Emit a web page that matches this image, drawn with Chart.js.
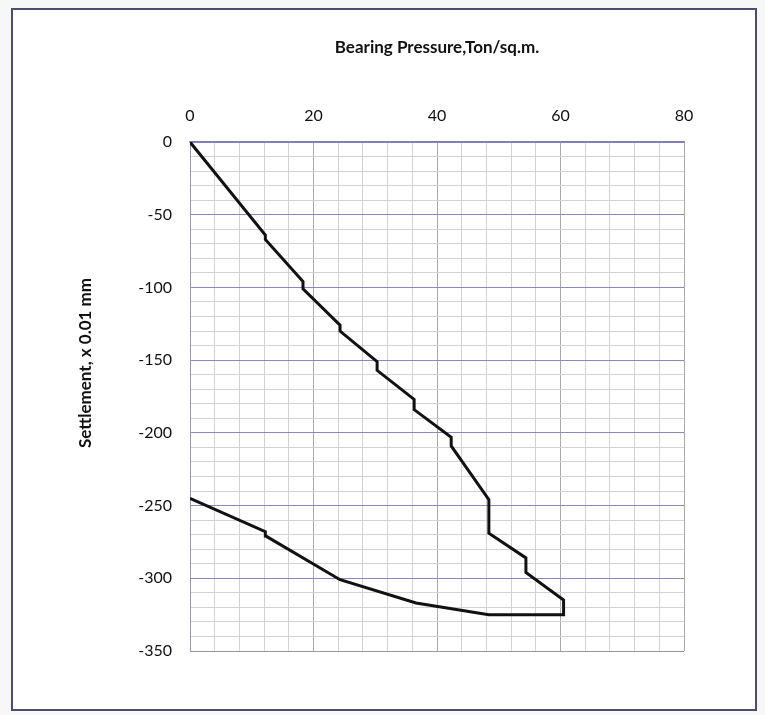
<!DOCTYPE html>
<html>
<head>
<meta charset="utf-8">
<script src="https://cdn.jsdelivr.net/npm/chart.js@4/dist/chart.umd.min.js"></script>
<style>
  html, body { margin: 0; padding: 0; background: #f7f7f7; }
  #wrap { position: relative; width: 765px; height: 715px; overflow: hidden; }
  #frame { position: absolute; left: 11px; top: 8px; width: 746px; height: 703px;
           border: 2px solid #4d4d6e; background: #ffffff; box-sizing: border-box; }
  #c { position: absolute; left: 0; top: 0; }
</style>
</head>
<body>
<div id="wrap">
  <div id="frame"></div>
  <canvas id="c" width="765" height="715"></canvas>
</div>
<script>
// Bearing pressure (Ton/sq.m.) and settlement (x 0.01 mm), loading then unloading
const pressure   = [0, 12.2, 12.2, 18.3, 18.3, 24.3, 24.3, 30.3, 30.3, 36.3, 36.3, 42.3, 42.3, 48.4, 48.4, 54.4, 54.4, 60.5, 60.5, 48.4, 36.6, 24.3, 12.3, 12.2, 0];
const settlement = [0, -64, -67, -96, -101, -126, -130, -151, -157, -177, -184, -203, -209, -246, -269, -286, -296, -315, -325, -325, -317, -301, -271, -268, -245];
const xTickLabels = [0, 20, 40, 60, 80];
const yTickLabels = [0, -50, -100, -150, -200, -250, -300, -350];
const xTitle = 'Bearing Pressure,Ton/sq.m.';
const yTitle = 'Settlement, x 0.01 mm';

const points = pressure.map((p, i) => ({ x: p, y: settlement[i] }));
const FONT = 'Lato, "Open Sans", sans-serif';

const yTitlePlugin = {
  id: 'yTitle',
  afterDraw(chart) {
    const ctx = chart.ctx;
    ctx.save();
    ctx.translate(86, 363);
    ctx.rotate(-Math.PI / 2);
    ctx.font = 'bold 17px ' + FONT;
    ctx.fillStyle = '#111';
    ctx.textAlign = 'center';
    ctx.textBaseline = 'middle';
    ctx.fillText(yTitle, 0, 0);
    ctx.restore();
  }
};

new Chart(document.getElementById('c'), {
  type: 'scatter',
  data: {
    datasets: [{
      data: points,
      showLine: true,
      borderColor: '#111111',
      borderWidth: 3,
      pointRadius: 0,
      fill: false,
      tension: 0
    }]
  },
  options: {
    responsive: false,
    animation: false,
    layout: { padding: { left: 0, right: 81, top: 0, bottom: 64 } },
    plugins: { legend: { display: false }, tooltip: { enabled: false } },
    scales: {
      x: {
        type: 'linear',
        position: 'top',
        min: 0, max: 80,
        afterFit(scale) { scale.height = 142; },
        ticks: {
          stepSize: 4,
          autoSkip: false,
          maxRotation: 0,
          padding: 17,
          color: '#111',
          font: { family: FONT, size: 16 },
          callback: (v) => xTickLabels.includes(v) ? String(v) : ''
        },
        grid: {
          drawTicks: false,
          lineWidth: 1,
          color: (c) => (c.tick && c.tick.value % 20 === 0) ? '#a9a9b0' : '#d2d2d6'
        },
        border: { display: true, color: '#8080b0', width: 1.5 },
        title: {
          display: true,
          text: xTitle,
          color: '#111',
          font: { family: FONT, size: 17, weight: 'bold' },
          padding: { top: 37, bottom: 0 }
        }
      },
      y: {
        type: 'linear',
        min: -350, max: 0,
        afterFit(scale) { scale.width = 190; },
        ticks: {
          stepSize: 10,
          autoSkip: false,
          padding: 18,
          color: '#111',
          font: { family: FONT, size: 16 },
          callback: (v) => yTickLabels.includes(v) ? String(v) : ''
        },
        grid: {
          drawTicks: false,
          lineWidth: 1,
          color: (c) => {
            const v = c.tick ? c.tick.value : 1;
            if (v === -350) return '#9a9aa6';
            return v % 50 === 0 ? '#8a88bc' : '#d2d2d6';
          }
        },
        border: { display: true, color: '#9a9aa6', width: 1 }
      }
    }
  },
  plugins: [yTitlePlugin]
});
</script>
</body>
</html>
